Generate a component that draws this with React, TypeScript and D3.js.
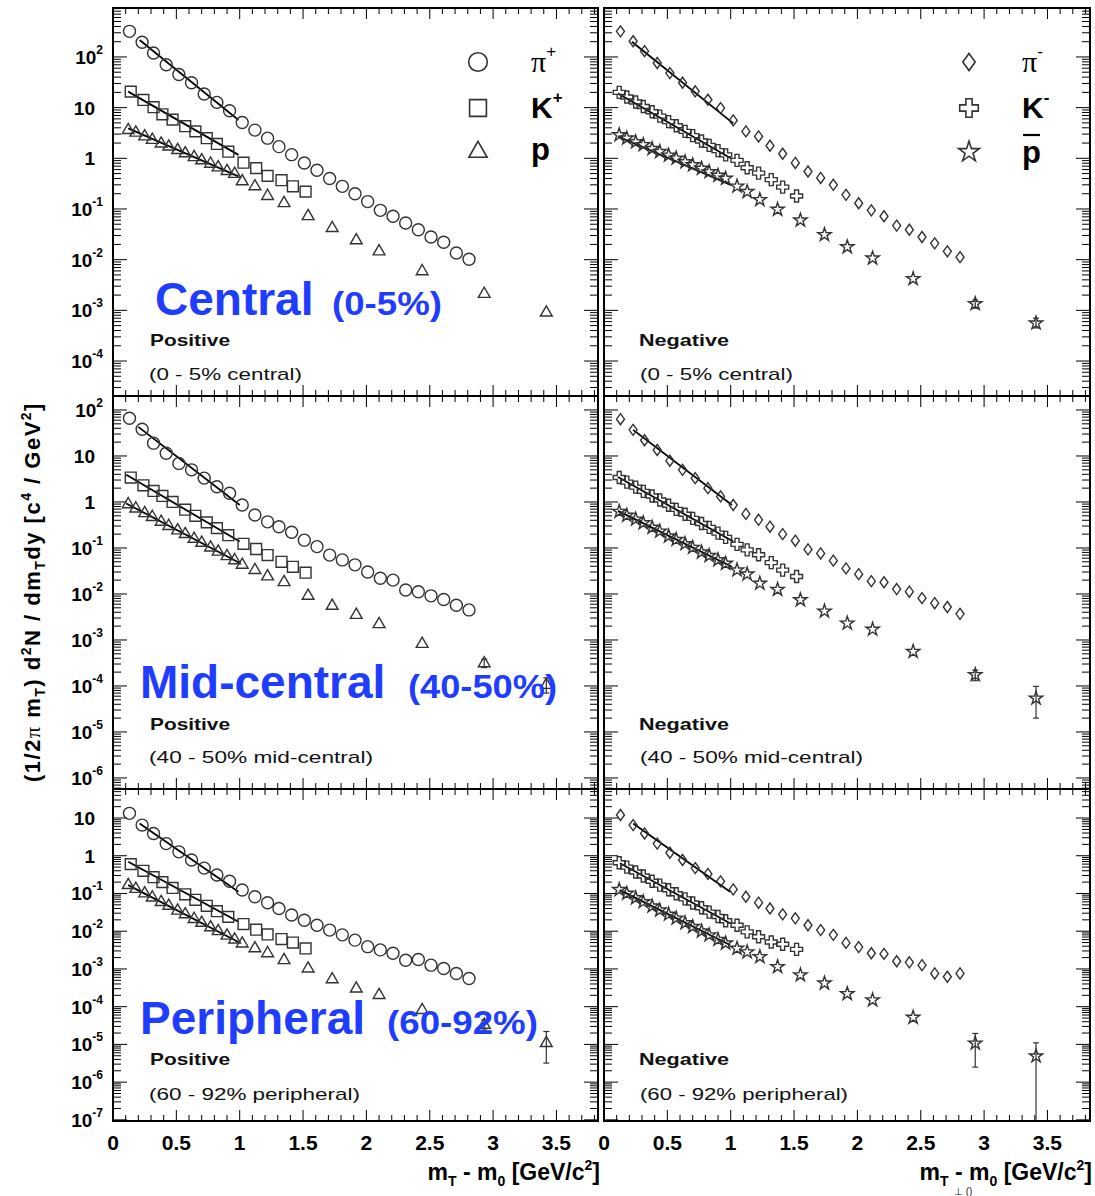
import * as d3 from "d3";
import { useEffect, useRef } from "react";

// m_T - m_0 positions [GeV/c^2]
const pionX = [0.13, 0.23, 0.32, 0.42, 0.52, 0.62, 0.72, 0.82, 0.92, 1.02, 1.12, 1.22, 1.31, 1.41, 1.51, 1.61, 1.71, 1.81, 1.91, 2.01, 2.11, 2.21, 2.31, 2.41, 2.51, 2.61, 2.71, 2.81];
const kaonPosX = [0.14, 0.24, 0.32, 0.39, 0.47, 0.57, 0.65, 0.74, 0.82, 0.91, 1.03, 1.13, 1.22, 1.33, 1.42, 1.52];
const kaonNegX = [0.12, 0.18, 0.25, 0.31, 0.38, 0.44, 0.51, 0.57, 0.64, 0.70, 0.77, 0.83, 0.90, 0.96, 1.05, 1.13, 1.22, 1.32, 1.41, 1.52];
const protonX = [0.12, 0.18, 0.25, 0.31, 0.38, 0.44, 0.51, 0.57, 0.64, 0.70, 0.77, 0.83, 0.90, 0.96, 1.02, 1.12, 1.22, 1.35, 1.54, 1.73, 1.92, 2.10, 2.44, 2.93, 3.42];
const pbarX = [0.12, 0.18, 0.25, 0.31, 0.38, 0.44, 0.51, 0.57, 0.64, 0.70, 0.77, 0.83, 0.90, 0.96, 1.05, 1.13, 1.23, 1.37, 1.55, 1.74, 1.92, 2.12, 2.44, 2.93, 3.41];

// central (0-5%)
const piPlusCentral = [320, 195, 120, 70, 45, 31, 18.6, 12.7, 8.7, 5.1, 3.6, 2.5, 1.7, 1.18, 0.81, 0.58, 0.40, 0.28, 0.20, 0.14, 0.094, 0.072, 0.053, 0.039, 0.028, 0.022, 0.0135, 0.0102];
const kPlusCentral = [20.7, 14.2, 10.2, 7.4, 5.8, 4.3, 3.4, 2.5, 1.92, 1.35, 0.82, 0.64, 0.45, 0.37, 0.28, 0.22];
const pCentral = [3.6, 3.2, 2.7, 2.3, 1.95, 1.7, 1.45, 1.25, 1.05, 0.91, 0.78, 0.66, 0.56, 0.49, 0.35, 0.28, 0.18, 0.13, 0.072, 0.042, 0.024, 0.0145, 0.0059, 0.0021, 0.0009];
const piMinusCentral = [320, 204, 130, 76, 48, 31, 21, 14.3, 9.8, 5.6, 3.4, 2.7, 1.77, 1.23, 0.81, 0.55, 0.41, 0.30, 0.19, 0.13, 0.094, 0.072, 0.047, 0.039, 0.028, 0.021, 0.0146, 0.0112];
const kMinusCentral = [20, 16.2, 12.9, 10.5, 8.3, 6.8, 5.3, 4.4, 3.4, 2.8, 2.2, 1.8, 1.42, 1.17, 0.91, 0.65, 0.51, 0.38, 0.27, 0.18];
const pbarCentral = [2.9, 2.5, 2.1, 1.85, 1.55, 1.35, 1.15, 1.0, 0.85, 0.74, 0.63, 0.54, 0.46, 0.40, 0.28, 0.22, 0.152, 0.098, 0.060, 0.031, 0.0178, 0.0107, 0.0042, 0.00135, 0.00056];

// mid-central (40-50%)
const piPlusMid = [66, 38, 19, 11.5, 6.9, 5.0, 3.3, 2.15, 1.55, 0.86, 0.52, 0.37, 0.29, 0.22, 0.148, 0.107, 0.070, 0.055, 0.043, 0.030, 0.022, 0.020, 0.0122, 0.0112, 0.0091, 0.0076, 0.0057, 0.0045];
const kPlusMid = [3.4, 2.3, 1.74, 1.35, 1.0, 0.68, 0.50, 0.36, 0.27, 0.19, 0.123, 0.095, 0.070, 0.050, 0.039, 0.029];
const pMid = [0.89, 0.72, 0.57, 0.47, 0.37, 0.30, 0.24, 0.20, 0.158, 0.129, 0.102, 0.083, 0.066, 0.054, 0.043, 0.033, 0.024, 0.018, 0.0091, 0.0055, 0.0035, 0.0022, 0.00082, 0.00031, 0.000105];
const piMinusMid = [63, 37, 22, 13.5, 7.9, 5.0, 3.3, 2.0, 1.32, 0.86, 0.55, 0.41, 0.29, 0.20, 0.144, 0.093, 0.076, 0.053, 0.036, 0.027, 0.019, 0.018, 0.0128, 0.0112, 0.0081, 0.0063, 0.0052, 0.0037];
const kMinusMid = [3.4, 2.7, 2.1, 1.7, 1.35, 1.1, 0.85, 0.69, 0.54, 0.44, 0.34, 0.28, 0.21, 0.17, 0.12, 0.091, 0.071, 0.048, 0.033, 0.024];
const pbarMid = [0.62, 0.51, 0.42, 0.35, 0.28, 0.23, 0.18, 0.152, 0.123, 0.102, 0.081, 0.068, 0.055, 0.046, 0.033, 0.027, 0.017, 0.0125, 0.0074, 0.0042, 0.0023, 0.0017, 0.00056, 0.000175, 0.000054];

// peripheral (60-92%)
const piPlusPeri = [13.3, 6.5, 3.9, 2.1, 1.27, 0.77, 0.47, 0.31, 0.21, 0.124, 0.082, 0.057, 0.040, 0.027, 0.0196, 0.0144, 0.0107, 0.0080, 0.0058, 0.0039, 0.0032, 0.0026, 0.0017, 0.00178, 0.00126, 0.00103, 0.00076, 0.00056];
const kPlusPeri = [0.60, 0.40, 0.27, 0.20, 0.14, 0.095, 0.068, 0.047, 0.034, 0.024, 0.0155, 0.0110, 0.0082, 0.0062, 0.0050, 0.0035];
const pPeri = [0.166, 0.132, 0.100, 0.078, 0.059, 0.047, 0.035, 0.028, 0.021, 0.0166, 0.0126, 0.0100, 0.0076, 0.0060, 0.0047, 0.0035, 0.0026, 0.0017, 0.00102, 0.00053, 0.00030, 0.000203, 0.000081, 0.000033, 0.0000108];
const piMinusPeri = [12, 6.5, 3.9, 2.1, 1.2, 0.77, 0.47, 0.33, 0.21, 0.128, 0.082, 0.057, 0.040, 0.028, 0.022, 0.0144, 0.0107, 0.0080, 0.0049, 0.0038, 0.0026, 0.0025, 0.0016, 0.0015, 0.00126, 0.00076, 0.00062, 0.00076];
const kMinusPeri = [0.65, 0.50, 0.37, 0.29, 0.21, 0.166, 0.126, 0.098, 0.072, 0.056, 0.042, 0.032, 0.0245, 0.019, 0.0144, 0.0096, 0.0071, 0.0052, 0.0045, 0.0033];
const pbarPeri = [0.126, 0.100, 0.076, 0.060, 0.046, 0.036, 0.028, 0.022, 0.0166, 0.0132, 0.0100, 0.0079, 0.0060, 0.0048, 0.0035, 0.0028, 0.0021, 0.00114, 0.00069, 0.00042, 0.00022, 0.000150, 0.000052, 0.0000107, 0.0000049];

// exponential fits: [x0, y0, x1, y1] per row, order pi, K, p
const fitsPosCentral = [[0.21, 216, 0.99, 5.7], [0.12, 20.7, 0.99, 1.17], [0.12, 3.9, 0.99, 0.44]];
const fitsNegCentral = [[0.22, 200, 1.02, 4.9], [0.11, 19, 1.0, 1.0], [0.11, 2.7, 1.0, 0.3]];
const fitsPosMid = [[0.2, 43, 1.0, 0.86], [0.105, 3.9, 1.0, 0.138], [0.105, 0.93, 1.0, 0.047]];
const fitsNegMid = [[0.23, 37, 1.01, 0.86], [0.11, 3.5, 1.02, 0.138], [0.11, 0.64, 1.01, 0.039]];
const fitsPosPeri = [[0.21, 7.2, 0.99, 0.111], [0.12, 0.69, 0.99, 0.0178], [0.12, 0.166, 0.99, 0.0052]];
const fitsNegPeri = [[0.23, 7.2, 0.995, 0.111], [0.126, 0.63, 0.995, 0.0162], [0.126, 0.123, 0.995, 0.0043]];

// error bars on the last (anti)proton points: [x, low, high]
const errPCentral: number[][] = [];
const errPbarCentral = [[2.93, 0.0011, 0.0016], [3.41, 0.00045, 0.0007]];
const errPMid = [[2.93, 0.00025, 0.00038], [3.42, 0.00007, 0.00015]];
const errPbarMid = [[2.93, 0.00013, 0.00022], [3.41, 0.00002, 0.000098]];
const errPPeri = [[2.93, 0.000024, 0.000045], [3.42, 0.0000032, 0.000022]];
const errPbarPeri = [[2.93, 0.0000025, 0.0000195], [3.41, 1e-9, 0.000011]];

const xTickValues = [0, 0.5, 1, 1.5, 2, 2.5, 3, 3.5];
const xTickLabels = ["0", "0.5", "1", "1.5", "2", "2.5", "3", "3.5"];
const rowTitles = ["Central", "Mid-central", "Peripheral"];
const rowRanges = ["(0-5%)", "(40-50%)", "(60-92%)"];
const rowNotes = ["(0 - 5% central)", "(40 - 50% mid-central)", "(60 - 92% peripheral)"];
const chargeNames = ["Positive", "Negative"];

const FONT = "'Liberation Sans', Arial, Helvetica, sans-serif";
const BLUE = "#1f3dff";
const INK = "#333";

const symbolPath = (shape: string, s = 1): string => {
  switch (shape) {
    case "circle": return d3.symbol(d3.symbolCircle, 113 * s * s)()!;
    case "square": return d3.symbol(d3.symbolSquare, 118 * s * s)()!;
    case "triangle": return d3.symbol(d3.symbolTriangle, 60 * s * s)()!;
    case "cross": return d3.symbol(d3.symbolCross, 80 * s * s)()!;
    case "star": return d3.symbol(d3.symbolStar, 55 * s * s)()!;
    default: {
      const w = 4 * s, h = 5.5 * s;
      return `M0,${-h}L${w},0L0,${h}L${-w},0Z`;
    }
  }
};

const App = () => {
  const svgRef = useRef<SVGSVGElement | null>(null);

  useEffect(() => {
    if (!svgRef.current) return;
    const svg = d3.select(svgRef.current);
    svg.selectAll("*").remove();

    const colX = [[113, 598], [604, 1090]];
    const rowY = [[8, 396], [396, 789], [789, 1121]];
    const rowLog = [[-4.69, 2.966], [-6.24, 2.304], [-7.03, 1.769]];

    const posSeries = [
      [piPlusCentral, kPlusCentral, pCentral],
      [piPlusMid, kPlusMid, pMid],
      [piPlusPeri, kPlusPeri, pPeri],
    ];
    const negSeries = [
      [piMinusCentral, kMinusCentral, pbarCentral],
      [piMinusMid, kMinusMid, pbarMid],
      [piMinusPeri, kMinusPeri, pbarPeri],
    ];
    const posFits = [fitsPosCentral, fitsPosMid, fitsPosPeri];
    const negFits = [fitsNegCentral, fitsNegMid, fitsNegPeri];
    const posErr = [errPCentral, errPMid, errPPeri];
    const negErr = [errPbarCentral, errPbarMid, errPbarPeri];

    const panels: any[] = [];
    for (let r = 0; r < 3; r++) {
      panels.push({
        row: r, col: 0,
        series: [
          { x: pionX, y: posSeries[r][0], shape: "circle" },
          { x: kaonPosX, y: posSeries[r][1], shape: "square" },
          { x: protonX, y: posSeries[r][2], shape: "triangle" },
        ],
        fits: posFits[r], errors: posErr[r],
      });
      panels.push({
        row: r, col: 1,
        series: [
          { x: pionX, y: negSeries[r][0], shape: "diamond" },
          { x: kaonNegX, y: negSeries[r][1], shape: "cross" },
          { x: pbarX, y: negSeries[r][2], shape: "star" },
        ],
        fits: negFits[r], errors: negErr[r],
      });
    }

    panels.forEach((p, i) => {
      const [x0, x1] = colX[p.col];
      const [y0, y1] = rowY[p.row];
      const [lo, hi] = rowLog[p.row];
      const x = d3.scaleLinear().domain([0, (x1 - x0) / 126.7]).range([x0, x1]);
      const y = d3.scaleLog().domain([10 ** lo, 10 ** hi]).range([y1, y0]);
      const g = svg.append("g");

      const clipId = `clip${i}`;
      g.append("clipPath").attr("id", clipId)
        .append("rect").attr("x", x0).attr("y", y0).attr("width", x1 - x0).attr("height", y1 - y0);

      // y ticks (log, both sides)
      for (let d = Math.floor(lo); d <= Math.ceil(hi); d++) {
        for (let m = 1; m <= 9; m++) {
          const v = m * 10 ** d;
          const lv = Math.log10(v);
          if (lv < lo || lv > hi) continue;
          const len = m === 1 ? 14 : 8;
          const yy = y(v);
          g.append("line").attr("x1", x0).attr("x2", x0 + len).attr("y1", yy).attr("y2", yy)
            .attr("stroke", "#000").attr("stroke-width", 1);
          g.append("line").attr("x1", x1).attr("x2", x1 - len).attr("y1", yy).attr("y2", yy)
            .attr("stroke", "#000").attr("stroke-width", 1);
          if (m === 1 && p.col === 0) {
            const t = g.append("text").attr("y", yy + 7).attr("font-family", FONT)
              .attr("font-weight", "bold").attr("font-size", 19).attr("text-anchor", "end");
            if (d === 0 || d === 1) {
              t.attr("x", 95).text(d === 0 ? "1" : "10");
            } else {
              t.attr("x", 103);
              t.append("tspan").text("10");
              t.append("tspan").attr("font-size", 12).attr("dy", -10).text(String(d));
            }
          }
        }
      }

      // x ticks (top and bottom)
      d3.range(0, 39).forEach((k) => {
        const v = k / 10;
        const xx = x(v);
        if (xx > x1 - 1) return;
        const len = k % 5 === 0 ? 11 : 6;
        g.append("line").attr("x1", xx).attr("x2", xx).attr("y1", y1).attr("y2", y1 - len)
          .attr("stroke", "#000").attr("stroke-width", 1);
        g.append("line").attr("x1", xx).attr("x2", xx).attr("y1", y0).attr("y2", y0 + len)
          .attr("stroke", "#000").attr("stroke-width", 1);
      });
      if (p.row === 2) {
        xTickValues.forEach((v, k) => {
          g.append("text").attr("x", x(v)).attr("y", 1150).attr("text-anchor", "middle")
            .attr("font-family", FONT).attr("font-weight", "bold").attr("font-size", 21)
            .text(xTickLabels[k]);
        });
      }

      const plot = g.append("g").attr("clip-path", `url(#${clipId})`);

      // fit lines
      const line = d3.line<number[]>().x((d) => x(d[0])).y((d) => y(d[1]));
      p.fits.forEach((f: number[]) => {
        plot.append("path").attr("d", line([[f[0], f[1]], [f[2], f[3]]]))
          .attr("stroke", "#000").attr("stroke-width", 1.8).attr("fill", "none");
      });

      // error bars
      p.errors.forEach((e: number[]) => {
        const xx = x(e[0]);
        const ylo = Math.min(y(e[1]), y1 + 5);
        const yhi = y(e[2]);
        plot.append("line").attr("x1", xx).attr("x2", xx).attr("y1", ylo).attr("y2", yhi)
          .attr("stroke", INK).attr("stroke-width", 1.2);
        [ylo, yhi].forEach((yy) => {
          plot.append("line").attr("x1", xx - 3).attr("x2", xx + 3).attr("y1", yy).attr("y2", yy)
            .attr("stroke", INK).attr("stroke-width", 1.2);
        });
      });

      // markers
      p.series.forEach((s: any) => {
        const path = symbolPath(s.shape);
        s.y.forEach((v: number, k: number) => {
          plot.append("path").attr("d", path)
            .attr("transform", `translate(${x(s.x[k])},${y(v)})`)
            .attr("fill", "none").attr("stroke", INK).attr("stroke-width", 1.4);
        });
      });

      // frame
      g.append("rect").attr("x", x0).attr("y", y0).attr("width", x1 - x0).attr("height", y1 - y0)
        .attr("fill", "none").attr("stroke", "#000").attr("stroke-width", 2);

      // charge and centrality notes
      const noteBase = [[346, 380], [730, 763], [1065, 1100]][p.row];
      const noteW = [[153, 153], [224, 223], [211, 208]][p.row][p.col];
      g.append("text").attr("x", p.col === 0 ? 150 : 639).attr("y", noteBase[0])
        .attr("font-family", FONT).attr("font-weight", "bold").attr("font-size", 17)
        .attr("textLength", p.col === 0 ? 80 : 90).attr("lengthAdjust", "spacingAndGlyphs")
        .attr("fill", "#111").text(chargeNames[p.col]);
      g.append("text").attr("x", p.col === 0 ? 149 : 640).attr("y", noteBase[1])
        .attr("font-family", FONT).attr("font-size", 17)
        .attr("textLength", noteW).attr("lengthAdjust", "spacingAndGlyphs")
        .attr("fill", "#111").text(rowNotes[p.row]);
    });

    // legends
    const legend = (cx: number, shapes: string[]) => {
      [62, 108, 152].forEach((yy, k) => {
        svg.append("path").attr("d", symbolPath(shapes[k], 1.55))
          .attr("transform", `translate(${cx},${yy})`)
          .attr("fill", "none").attr("stroke", INK).attr("stroke-width", 1.6);
      });
    };
    legend(478, ["circle", "square", "triangle"]);
    legend(969, ["diamond", "cross", "star"]);

    const legLabels = [
      { x: 531, sign: "+", anti: false },
      { x: 1022, sign: "-", anti: true },
    ];
    legLabels.forEach((l) => {
      const pi = svg.append("text").attr("x", l.x).attr("y", 72).attr("font-size", 30)
        .attr("font-family", "'Liberation Serif', 'DejaVu Serif', serif");
      pi.append("tspan").text("π");
      pi.append("tspan").attr("font-size", 17).attr("font-family", FONT).attr("dy", -15).text(l.sign);
      const k = svg.append("text").attr("x", l.x).attr("y", 118).attr("font-size", 30)
        .attr("font-family", FONT).attr("font-weight", "bold");
      k.append("tspan").text("K");
      k.append("tspan").attr("font-size", 17).attr("dy", -15).text(l.sign);
      svg.append("text").attr("x", l.x).attr("y", l.anti ? 163 : 160).attr("font-size", 31)
        .attr("font-family", FONT).attr("font-weight", "bold").text("p");
      if (l.anti) {
        svg.append("line").attr("x1", l.x + 1).attr("x2", l.x + 18).attr("y1", 135).attr("y2", 135)
          .attr("stroke", "#000").attr("stroke-width", 2.2);
      }
    });

    // blue centrality titles
    const titleBase = [315, 698, 1034];
    const titleX = [155, 140, 140];
    const rangeX = [332, 408, 387];
    const rangeW = [110, 149, 151];
    rowTitles.forEach((t, r) => {
      svg.append("text").attr("x", titleX[r]).attr("y", titleBase[r])
        .attr("font-family", FONT).attr("font-weight", "bold").attr("font-size", 46)
        .attr("fill", BLUE).text(t);
      svg.append("text").attr("x", rangeX[r]).attr("y", titleBase[r])
        .attr("font-family", FONT).attr("font-weight", "bold").attr("font-size", 33)
        .attr("textLength", rangeW[r]).attr("lengthAdjust", "spacingAndGlyphs")
        .attr("fill", BLUE).text(rowRanges[r]);
    });

    // x axis titles
    [600, 1092].forEach((xr) => {
      const t = svg.append("text").attr("x", xr).attr("y", 1180).attr("text-anchor", "end")
        .attr("font-family", FONT).attr("font-weight", "bold").attr("font-size", 23);
      t.append("tspan").text("m");
      t.append("tspan").attr("font-size", 14).attr("dy", 6).text("T");
      t.append("tspan").attr("dy", -6).text(" - m");
      t.append("tspan").attr("font-size", 14).attr("dy", 6).text("0");
      t.append("tspan").attr("dy", -6).text(" [GeV/c");
      t.append("tspan").attr("font-size", 14).attr("dy", -10).text("2");
      t.append("tspan").attr("dy", 10).text("]");
    });
    svg.append("text").attr("x", 954).attr("y", 1195).attr("font-family", FONT)
      .attr("font-size", 10).attr("fill", "#222").text("⊥ ()");

    // y axis title
    const yt = svg.append("text").attr("transform", "translate(40,592) rotate(-90)")
      .attr("text-anchor", "middle").attr("font-family", FONT).attr("font-weight", "bold")
      .attr("font-size", 22).attr("letter-spacing", 1.5);
    yt.append("tspan").text("(1/2");
    yt.append("tspan").attr("font-family", "'Liberation Serif', serif").attr("font-weight", "normal").text("π");
    yt.append("tspan").text(" m");
    yt.append("tspan").attr("font-size", 14).attr("dy", 5).text("T");
    yt.append("tspan").attr("dy", -5).text(") d");
    yt.append("tspan").attr("font-size", 14).attr("dy", -9).text("2");
    yt.append("tspan").attr("dy", 9).text("N / dm");
    yt.append("tspan").attr("font-size", 14).attr("dy", 5).text("T");
    yt.append("tspan").attr("dy", -5).text("dy [c");
    yt.append("tspan").attr("font-size", 14).attr("dy", -9).text("4");
    yt.append("tspan").attr("dy", 9).text(" / GeV");
    yt.append("tspan").attr("font-size", 14).attr("dy", -9).text("2");
    yt.append("tspan").attr("dy", 9).text("]");
  }, []);

  return (
    <svg ref={svgRef} width={1095} height={1196}
      style={{ position: "absolute", left: 0, top: 0, background: "#fff" }} />
  );
};

export default App;
